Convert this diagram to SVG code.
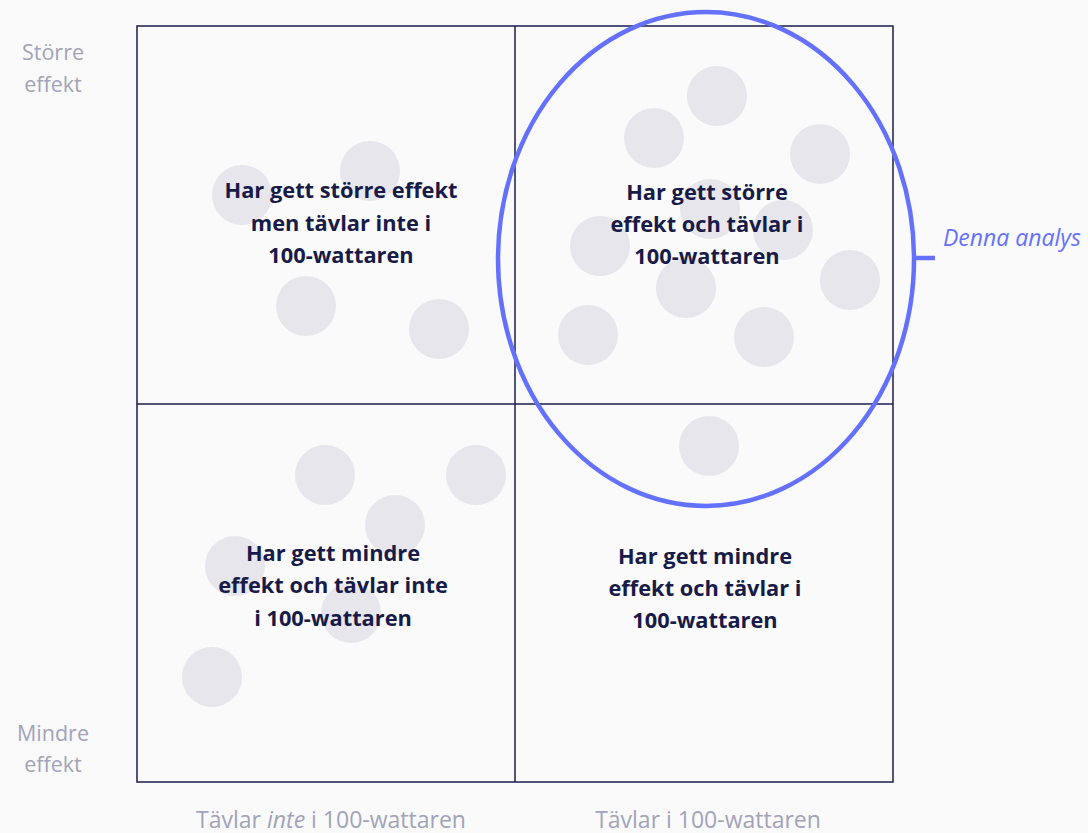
<svg xmlns="http://www.w3.org/2000/svg" width="1088" height="833" viewBox="0 0 1088 833">
  <style>
    .bg { fill: #fafafb; }
    .dot { fill: #e6e6ec; }
    .grid { fill: none; stroke: #1b1c4b; stroke-width: 1.5; }
    .quad { font-family: "Open Sans", "Liberation Sans", sans-serif; font-weight: 700; font-size: 21.8px; fill: #181a47; text-anchor: middle; }
    .axis { font-family: "Open Sans", "Liberation Sans", sans-serif; font-size: 21.5px; fill: #a2a3b9; text-anchor: middle; }
    .axis-x { font-size: 23px; }
    .focus { fill: none; stroke: #6471ff; stroke-width: 4.5; }
    .note { font-family: "Open Sans", "Liberation Sans", sans-serif; font-style: italic; font-size: 23px; fill: #6471ff; }
  </style>

  <rect class="bg" x="0" y="0" width="1088" height="833"/>

  <!-- scattered data points -->
  <g id="points">
    <circle class="dot" cx="242" cy="195" r="30"/>
    <circle class="dot" cx="370" cy="171" r="30"/>
    <circle class="dot" cx="306" cy="306" r="30"/>
    <circle class="dot" cx="439" cy="329" r="30"/>

    <circle class="dot" cx="717" cy="96" r="30"/>
    <circle class="dot" cx="654" cy="138" r="30"/>
    <circle class="dot" cx="820" cy="154" r="30"/>
    <circle class="dot" cx="710" cy="209" r="30"/>
    <circle class="dot" cx="783" cy="230" r="30"/>
    <circle class="dot" cx="600" cy="246" r="30"/>
    <circle class="dot" cx="850" cy="280" r="30"/>
    <circle class="dot" cx="686" cy="288" r="30"/>
    <circle class="dot" cx="588" cy="335" r="30"/>
    <circle class="dot" cx="764" cy="337" r="30"/>
    <circle class="dot" cx="709" cy="446" r="30"/>

    <circle class="dot" cx="325" cy="475" r="30"/>
    <circle class="dot" cx="476" cy="475" r="30"/>
    <circle class="dot" cx="395" cy="525" r="30"/>
    <circle class="dot" cx="235" cy="566" r="30"/>
    <circle class="dot" cx="351" cy="613" r="30"/>
    <circle class="dot" cx="212" cy="677" r="30"/>
  </g>

  <!-- 2x2 grid -->
  <g id="grid">
    <rect class="grid" x="137" y="26" width="756" height="756"/>
    <line class="grid" x1="515" y1="26" x2="515" y2="782"/>
    <line class="grid" x1="137" y1="404" x2="893" y2="404"/>
  </g>

  <g id="q-top-left">
    <text class="quad" x="341" y="198">Har gett större effekt</text>
    <text class="quad" x="341" y="231">men tävlar inte i</text>
    <text class="quad" x="341" y="263">100-wattaren</text>
  </g>
  <g id="q-top-right">
    <text class="quad" x="707" y="200">Har gett större</text>
    <text class="quad" x="707" y="232">effekt och tävlar i</text>
    <text class="quad" x="707" y="264">100-wattaren</text>
  </g>
  <g id="q-bottom-left">
    <text class="quad" x="333" y="561">Har gett mindre</text>
    <text class="quad" x="333" y="593">effekt och tävlar inte</text>
    <text class="quad" x="333" y="626">i 100-wattaren</text>
  </g>
  <g id="q-bottom-right">
    <text class="quad" x="705" y="564">Har gett mindre</text>
    <text class="quad" x="705" y="596">effekt och tävlar i</text>
    <text class="quad" x="705" y="628">100-wattaren</text>
  </g>

  <!-- axis labels -->
  <g id="axis-y">
    <text class="axis" x="53" y="60">Större</text>
    <text class="axis" x="53" y="92">effekt</text>
    <text class="axis" x="53" y="741">Mindre</text>
    <text class="axis" x="53" y="772">effekt</text>
  </g>
  <g id="axis-x">
    <text class="axis axis-x" x="331" y="828">Tävlar <tspan font-style="italic">inte</tspan> i 100-wattaren</text>
    <text class="axis axis-x" x="708" y="828">Tävlar i 100-wattaren</text>
  </g>

  <!-- highlighted selection -->
  <g id="selection">
    <ellipse class="focus" cx="706" cy="259" rx="208" ry="247"/>
  </g>
  <g id="connectors">
    <line class="focus" x1="914" y1="258" x2="935" y2="258"/>
  </g>
  <g id="note">
    <text class="note" x="943" y="246">Denna analys</text>
  </g>
</svg>
